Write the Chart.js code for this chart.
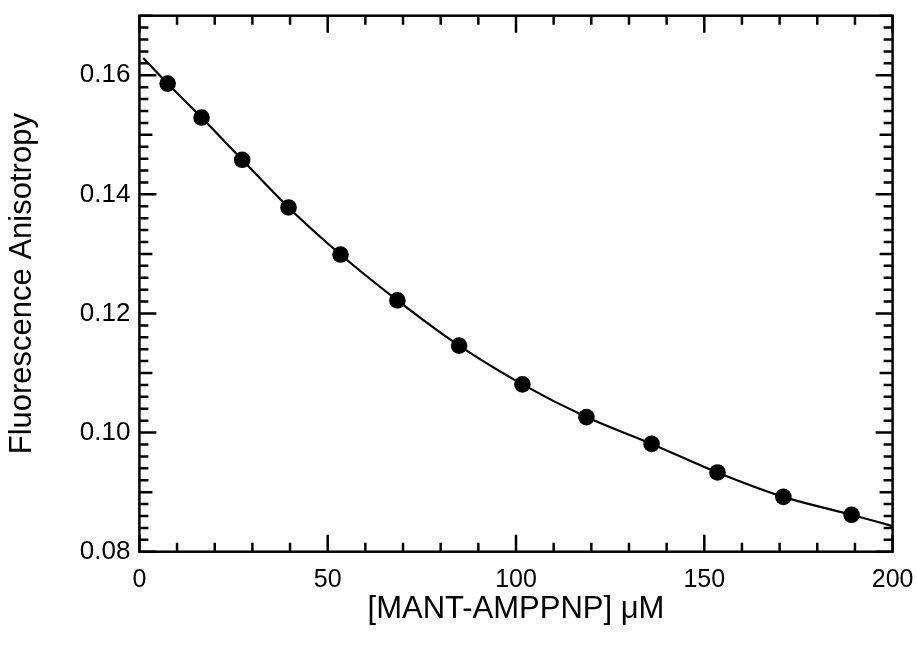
<!DOCTYPE html>
<html>
<head>
<meta charset="utf-8">
<script src="https://cdn.jsdelivr.net/npm/chart.js@4/dist/chart.umd.min.js"></script>
<style>
  html, body { margin: 0; padding: 0; background: #ffffff; }
  canvas { display: block; }
</style>
</head>
<body>
<canvas id="chart" width="917" height="647"></canvas>
<script>
// Measured titration points: nucleotide concentration (µM) vs. anisotropy
const concentration = [7.5, 16.5, 27.3, 39.6, 53.4, 68.5, 84.9, 101.7, 118.7, 136.0, 153.5, 171.0, 189.1];
const anisotropy = [0.1586, 0.1529, 0.1458, 0.1378, 0.1299, 0.1222, 0.1146, 0.1081, 0.1026, 0.0981, 0.0933, 0.0892, 0.0862];

// Fitted binding curve, sampled along its length
const fitConcentration = [1, 7.5, 16.5, 27.3, 39.6, 53.4, 68.5, 84.9, 101.7, 118.7, 136.0, 153.5, 171.0, 189.1, 200];
const fitAnisotropy = [0.1629, 0.1586, 0.1529, 0.1458, 0.1378, 0.1299, 0.1222, 0.1146, 0.1081, 0.1026, 0.0981, 0.0933, 0.0892, 0.0862, 0.0843];

// Axis ranges and tick spacing
const xRange = [0, 200];
const yRange = [0.08, 0.17];
const xMajorStep = 50, xMinorStep = 10;
const yMajorStep = 0.02, yMidStep = 0.01, yMinorStep = 0.002;

const toXY = (xs, ys) => xs.map((v, i) => ({ x: v, y: ys[i] }));

const FONT = "'Liberation Sans', Arial, Helvetica, sans-serif";

// Closed frame with inward-pointing tick marks on all four sides
const frameTicks = {
  id: 'frameTicks',
  afterDatasetsDraw(chart) {
    const { ctx, chartArea: a, scales: { x, y } } = chart;
    ctx.save();
    ctx.strokeStyle = '#000';
    ctx.lineWidth = 2.5;
    ctx.lineCap = 'butt';
    ctx.beginPath();
    const nx = Math.round((xRange[1] - xRange[0]) / xMinorStep);
    const perMajorX = Math.round(xMajorStep / xMinorStep);
    for (let i = 0; i <= nx; i++) {
      const px = x.getPixelForValue(xRange[0] + i * xMinorStep);
      const len = i % perMajorX === 0 ? 17 : 9;
      ctx.moveTo(px, a.bottom); ctx.lineTo(px, a.bottom - len);
      ctx.moveTo(px, a.top); ctx.lineTo(px, a.top + len);
    }
    const ny = Math.round((yRange[1] - yRange[0]) / yMinorStep);
    const perMajorY = Math.round(yMajorStep / yMinorStep);
    const perMidY = Math.round(yMidStep / yMinorStep);
    for (let i = 0; i <= ny; i++) {
      const py = y.getPixelForValue(yRange[0] + i * yMinorStep);
      const len = i % perMajorY === 0 ? 17 : (i % perMidY === 0 ? 13 : 9);
      ctx.moveTo(a.left, py); ctx.lineTo(a.left + len, py);
      ctx.moveTo(a.right, py); ctx.lineTo(a.right - len, py);
    }
    ctx.stroke();
    ctx.strokeRect(a.left, a.top, a.right - a.left, a.bottom - a.top);
    ctx.restore();
  }
};

new Chart(document.getElementById('chart'), {
  type: 'scatter',
  data: {
    datasets: [
      {
        label: 'fit',
        data: toXY(fitConcentration, fitAnisotropy),
        showLine: true,
        borderColor: '#000',
        borderWidth: 2.2,
        pointRadius: 0,
        cubicInterpolationMode: 'monotone',
        fill: false
      },
      {
        label: 'data',
        data: toXY(concentration, anisotropy),
        pointRadius: 8.3,
        pointBackgroundColor: '#000',
        pointBorderWidth: 0,
        borderColor: '#000'
      }
    ]
  },
  options: {
    responsive: false,
    animation: false,
    devicePixelRatio: 1,
    layout: { padding: { left: 0, right: 24.4, top: 15.7, bottom: 0 } },
    plugins: { legend: { display: false }, tooltip: { enabled: false } },
    scales: {
      x: {
        type: 'linear',
        min: xRange[0],
        max: xRange[1],
        grid: { display: false, drawTicks: false },
        border: { display: false },
        ticks: {
          stepSize: xMajorStep,
          includeBounds: false,
          color: '#000',
          padding: 13,
          maxRotation: 0,
          font: { family: FONT, size: 25 }
        },
        title: {
          display: true,
          text: '[MANT-AMPPNP] μM',
          color: '#000',
          font: { family: FONT, size: 31 },
          padding: { top: 0, bottom: 19 }
        },
        afterFit(scale) {
          scale.height = 95.3;
          scale.paddingLeft = 0;
          scale.paddingRight = 0;
        }
      },
      y: {
        type: 'linear',
        min: yRange[0],
        max: yRange[1],
        grid: { display: false, drawTicks: false },
        border: { display: false },
        ticks: {
          stepSize: yMajorStep,
          includeBounds: false,
          color: '#000',
          padding: 9,
          font: { family: FONT, size: 26 },
          callback: (v) => Number(v).toFixed(2)
        },
        title: {
          display: true,
          text: 'Fluorescence Anisotropy',
          color: '#000',
          font: { family: FONT, size: 31 },
          padding: { top: 4, bottom: 0 }
        },
        afterFit(scale) {
          scale.width = 139.4;
          scale.paddingTop = 0;
          scale.paddingBottom = 0;
        }
      }
    }
  },
  plugins: [frameTicks]
});
</script>
</body>
</html>
